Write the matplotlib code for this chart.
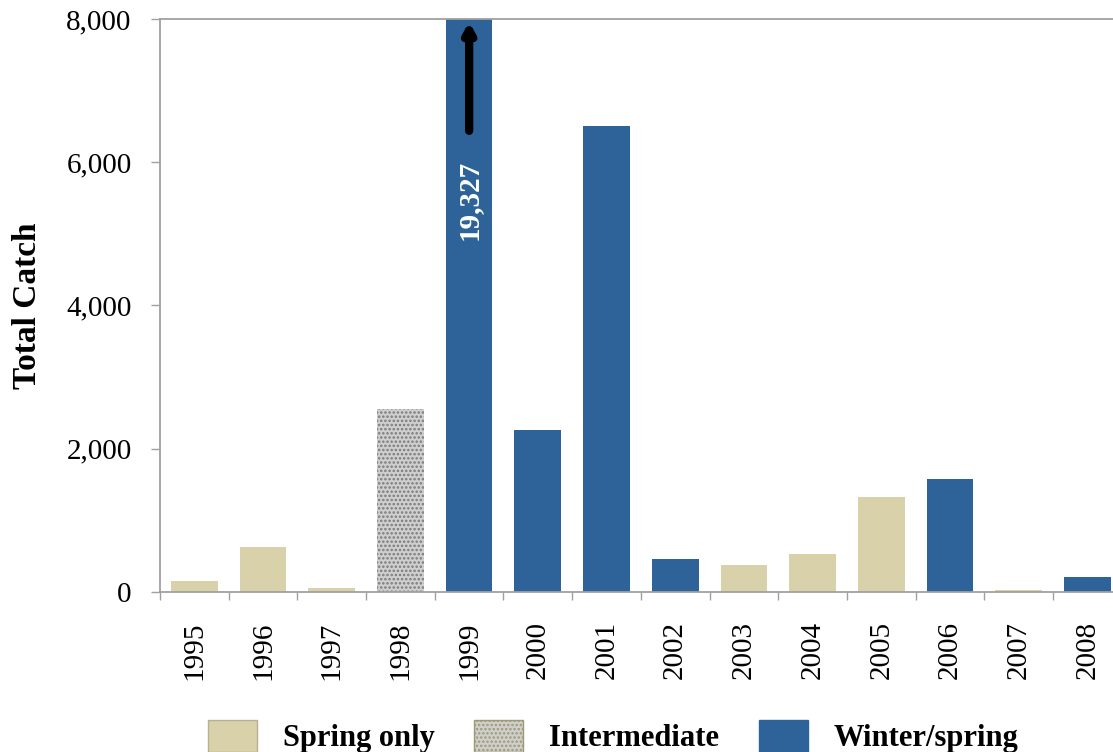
"""
Total catch by year, coloured by sampling season type.
"""

import matplotlib.pyplot as plt
import matplotlib.patches as mpatches
import numpy as np

years = ['1995', '1996', '1997', '1998', '1999', '2000', '2001',
         '2002', '2003', '2004', '2005', '2006', '2007', '2008']
catch = [150, 630, 60, 2560, 19327, 2260, 6500,
         465, 375, 525, 1325, 1580, 30, 205]
season = ['spring', 'spring', 'spring', 'inter', 'winter', 'winter', 'winter',
          'winter', 'spring', 'spring', 'spring', 'winter', 'spring', 'winter']
legend_labels = ['Spring only', 'Intermediate', 'Winter/spring']

tan = '#d9d1aa'
blue = '#2d6399'
spine_grey = '#a0a0a0'

plt.rcParams['font.family'] = ['Liberation Serif', 'DejaVu Serif']
plt.rcParams['hatch.linewidth'] = 1.2

fig = plt.figure(figsize=(11.13, 7.52), dpi=100)
ax = fig.add_axes([0.1438, 0.2128, 0.864, 0.762])

x = np.arange(len(years))
for xi, val, s in zip(x, catch, season):
    if s == 'spring':
        ax.bar(xi, val, width=0.68, color=tan, zorder=2)
    elif s == 'winter':
        ax.bar(xi, val, width=0.68, color=blue, zorder=2)
    else:
        ax.bar(xi, val, width=0.68, facecolor='#cfcfcf', edgecolor='#7a7a7a',
               hatch='....', linewidth=0, zorder=2)

ax.set_ylim(0, 8000)
ax.set_xlim(-0.5, len(years) - 0.5)

# clipped bar: arrow + true value
big = catch.index(max(catch))
ax.annotate('', xy=(big, 8000), xytext=(big, 6400),
            arrowprops=dict(arrowstyle='-|>,head_width=0.3,head_length=0.55',
                            color='black', lw=6), zorder=4)
ax.text(big, 5475, f'{catch[big]:,}', rotation=90, color='white',
        fontsize=21, fontweight='bold', ha='center', va='center', zorder=4)

# ticks
ax.set_yticks(range(0, 8001, 2000))
ax.set_yticklabels([f'{v:,}' for v in range(0, 8001, 2000)], fontsize=21)
ax.set_xticks(x)
ax.set_xticklabels(years, rotation=90, fontsize=21)
ax.set_xticks(np.arange(-0.5, len(years), 1), minor=True)
ax.tick_params(axis='x', which='major', length=0, pad=21)
ax.tick_params(axis='x', which='minor', length=6, color=spine_grey, width=1)
ax.tick_params(axis='y', length=6.5, color=spine_grey, width=1, pad=14)

ax.set_ylabel('Total Catch', fontsize=24, fontweight='bold', labelpad=17)

for side in ['left', 'bottom', 'top']:
    ax.spines[side].set_color(spine_grey)
    ax.spines[side].set_linewidth(1.3)
ax.spines['right'].set_visible(False)

# legend
handles = [
    mpatches.Patch(facecolor=tan, edgecolor='#b8b090'),
    mpatches.Patch(facecolor='#cfcfcf', edgecolor='#a09a70', hatch='....'),
    mpatches.Patch(facecolor=blue, edgecolor=blue),
]
leg = fig.legend(handles, legend_labels, loc='lower left',
                 bbox_to_anchor=(0.162, -0.038), ncol=3, frameon=False,
                 prop={'size': 22, 'weight': 'bold'},
                 handlelength=1.6, handleheight=1.25, columnspacing=1.3,
                 handletextpad=0.85)

fig.savefig('out.png', dpi=100, facecolor='white')
plt.close(fig)
